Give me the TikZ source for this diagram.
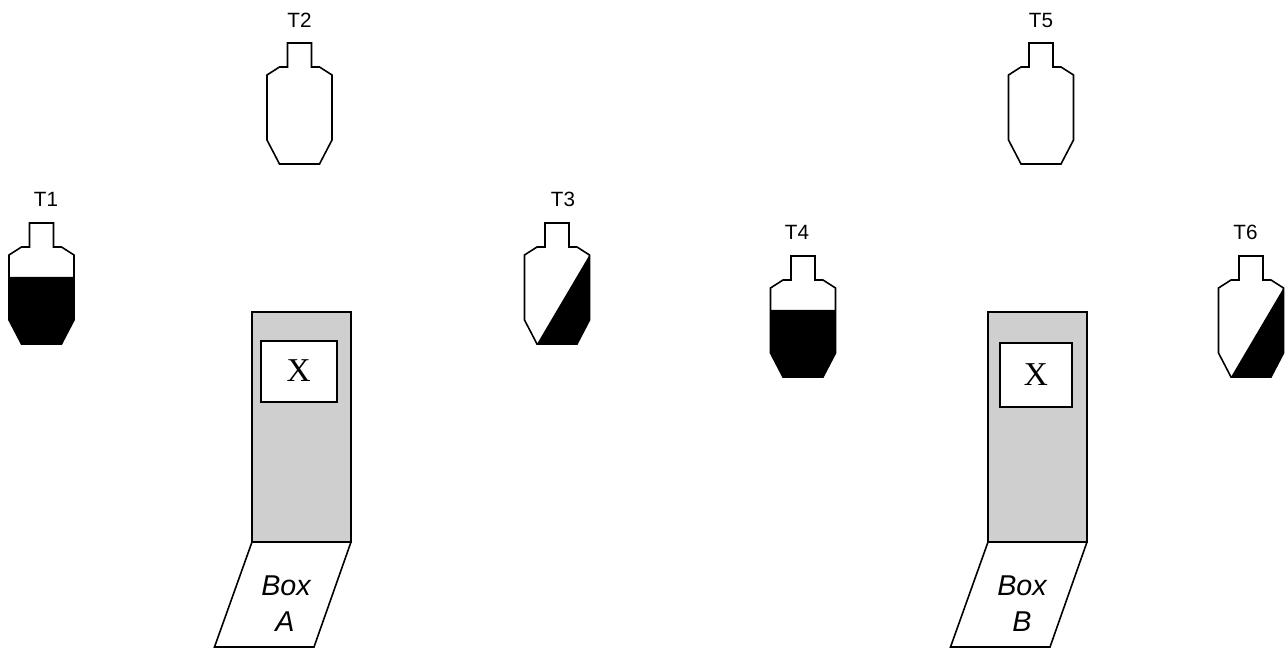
\documentclass[tikz,border=0pt]{standalone}
\usepackage{fontspec}
\setmainfont{Liberation Sans}
\newfontfamily\timesfont{Liberation Serif}
\tikzset{
  x=0.75pt, y=-0.75pt,
  line/.style={draw=black, line width=1.2pt, line join=miter},
  tlabel/.style={font=\fontsize{15.5pt}{18pt}\selectfont, inner sep=0pt},
  boxlabel/.style={font=\itshape\fontsize{21.5pt}{24pt}\selectfont, inner sep=0pt},
  xlabel/.style={font=\timesfont\fontsize{25pt}{28pt}\selectfont, inner sep=0pt},
  pics/targetshape/.style={code={
    \draw[line] (-12,0) -- (12,0) -- (12,24) -- (20,24) -- (32.5,32) -- (32.5,97) -- (20,121)
      -- (-20,121) -- (-32.5,97) -- (-32.5,32) -- (-20,24) -- (-12,24) -- cycle;
  }},
  pics/halftarget/.style={code={
    \fill (-32.5,54) -- (32.5,54) -- (32.5,97) -- (20,121) -- (-20,121) -- (-32.5,97) -- cycle;
    \pic {targetshape};
  }},
  pics/slanttarget/.style={code={
    \fill (32.5,32) -- (32.5,97) -- (20,121) -- (-20,121) -- cycle;
    \pic {targetshape};
  }},
}
\begin{document}
\begin{tikzpicture}
  \useasboundingbox (0,0) rectangle (1285,648);
  % targets
  \pic at (41.5,223) {halftarget};
  \node[tlabel] (t1) at (46,199) {T1};
  \pic at (299.5,43) {targetshape};
  \node[tlabel] (t2) at (299.5,20) {T2};
  \pic at (557,223) {slanttarget};
  \node[tlabel] (t3) at (563,199) {T3};
  \pic at (803,256) {halftarget};
  \node[tlabel] (t4) at (797,232.5) {T4};
  \pic at (1041,43) {targetshape};
  \node[tlabel] (t5) at (1041,20) {T5};
  \pic at (1251,256) {slanttarget};
  \node[tlabel] (t6) at (1245.5,232.5) {T6};
  % box A
  \filldraw[line, fill=black!19] (252,312) rectangle (351,542);
  \filldraw[line, fill=white] (261,341) rectangle (337,402);
  \node[xlabel] (xa) at (298.7,371) {X};
  \draw[line] (252,542) -- (214.5,647) -- (314,647) -- (351,542);
  \node[boxlabel] (boxa) at (286,586) {Box};
  \node[boxlabel] (namea) at (285,621.5) {A};
  % box B
  \filldraw[line, fill=black!19] (988,312) rectangle (1087,542);
  \filldraw[line, fill=white] (1000,343) rectangle (1072,407);
  \node[xlabel] (xb) at (1036,374.5) {X};
  \draw[line] (988,542) -- (950.5,647) -- (1050,647) -- (1087,542);
  \node[boxlabel] (boxb) at (1022,586) {Box};
  \node[boxlabel] (nameb) at (1022,621.5) {B};
\end{tikzpicture}
\end{document}
